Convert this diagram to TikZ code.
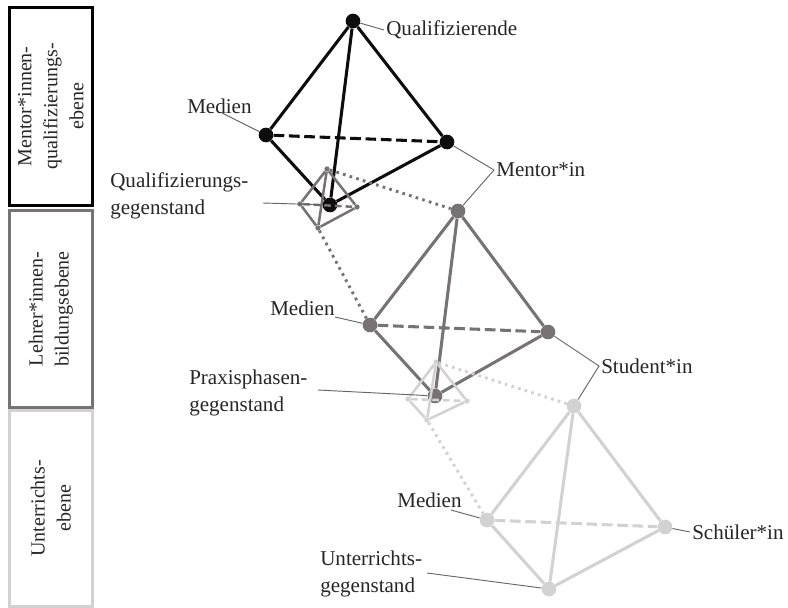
\documentclass[tikz,border=0pt]{standalone}
\usepackage{fontspec}
\setmainfont{Liberation Serif}
\definecolor{cb}{gray}{0.05}
\definecolor{cg}{HTML}{777374}
\definecolor{cl}{HTML}{D2D2D2}
\tikzset{
 x=0.75pt,y=-0.75pt,
 lab/.style={font=\fontsize{15.8}{20}\selectfont,text=black!85,inner sep=0pt,align=left},
 side/.style={font=\fontsize{15}{19.5}\selectfont,text=black!85,inner sep=0pt,align=center,rotate=90},
 lead/.style={draw=black!60,line width=0.7pt},
 pt/.style={circle,fill=#1,inner sep=0pt,minimum size=11pt},
 spt/.style={circle,fill=#1,inner sep=0pt,minimum size=4pt},
 edge/.style={line width=2.3pt},
 sedge/.style={line width=1.9pt},
 dash1/.style={dash pattern=on 8pt off 3.5pt},
 dash2/.style={dash pattern=on 5pt off 3pt},
 dot1/.style={line width=2.2pt,dash pattern=on 2pt off 3.2pt},
}
\begin{document}
\begin{tikzpicture}
\useasboundingbox (0,0) rectangle (788,607);
% side boxes
\node[draw=black,line width=2.1pt,minimum width=62.25pt,minimum height=148.5pt,inner sep=0pt,anchor=north west] (b1) at (8,6) {};
\node[draw=cg,line width=2.1pt,minimum width=62.25pt,minimum height=147.75pt,inner sep=0pt,anchor=north west] (b2) at (8,209) {};
\node[draw=cl,line width=2.1pt,minimum width=62.25pt,minimum height=147pt,inner sep=0pt,anchor=north west] (b3) at (8,409) {};
\node[side] at (b1) {Mentor*innen-\\qualifizierungs-\\ebene};
\node[side] at (b2) {Lehrer*innen-\\bildungsebene};
\node[side] at (b3) {Unterrichts-\\ebene};
% lower light tetrahedron
\node[pt=cl] (lt) at (574,406) {};
\node[pt=cl] (ll) at (487,520) {};
\node[pt=cl] (lr) at (665,527) {};
\node[pt=cl] (lb) at (549,589) {};
\draw[cl,edge] (lt)--(ll) (lt)--(lr) (lt)--(lb) (ll)--(lb) (lr)--(lb);
\draw[cl,edge,dash1] (ll)--(lr);
% gray
\node[pt=cg] (gt) at (458,211) {};
\node[pt=cg] (gl) at (370,325) {};
\node[pt=cg] (gr) at (548,332) {};
\node[pt=cg] (gb) at (435,396) {};
\draw[cg,edge] (gt)--(gl) (gt)--(gr) (gt)--(gb) (gl)--(gb) (gr)--(gb);
\draw[cg,edge,dash1] (gl)--(gr);
% black
\node[pt=cb] (kt) at (353,21) {};
\node[pt=cb] (kl) at (266,135) {};
\node[pt=cb] (kr) at (447,142) {};
\node[pt=cb] (kb) at (330,205) {};
\draw[cb,edge] (kt)--(kl) (kt)--(kr) (kt)--(kb) (kl)--(kb) (kr)--(kb);
\draw[cb,edge,dash1] (kl)--(kr);
% small gray
\node[spt=cg] (at) at (327,169) {};
\node[spt=cg] (al) at (300,204) {};
\node[spt=cg] (ar) at (357,207) {};
\node[spt=cg] (ab) at (318,228) {};
\draw[cg,sedge] (at)--(al) (at)--(ar) (at)--(ab) (al)--(ab) (ar)--(ab);
\draw[cg,sedge,dash2] (al)--(ar);
\draw[cg,dot1] (at)--(gt);
\draw[cg,dot1] (ab)--(gl);
% small light
\node[spt=cl] (ct) at (436,362) {};
\node[spt=cl] (cl1) at (408,399) {};
\node[spt=cl] (cr) at (467,401) {};
\node[spt=cl] (cb1) at (427,420) {};
\draw[cl,sedge] (ct)--(cl1) (ct)--(cr) (ct)--(cb1) (cl1)--(cb1) (cr)--(cb1);
\draw[cl,sedge,dash2] (cl1)--(cr);
\draw[cl,dot1] (ct)--(lt);
\draw[cl,dot1] (cb1)--(ll);
% labels
\node[lab,anchor=west] (t1) at (386,30) {Qualifizierende};
\node[lab,anchor=west] (t2) at (187,106) {Medien};
\node[lab,anchor=west] (t3) at (496,170) {Mentor*in};
\node[lab,anchor=west] (t4) at (110,196) {Qualifizierungs-\\gegenstand};
\node[lab,anchor=west] (t5) at (270,308) {Medien};
\node[lab,anchor=west] (t6) at (601,366) {Student*in};
\node[lab,anchor=west] (t7) at (189,393) {Praxisphasen-\\gegenstand};
\node[lab,anchor=west] (t8) at (397,500) {Medien};
\node[lab,anchor=west] (t9) at (692,532) {Schüler*in};
\node[lab,anchor=west] (t10) at (320,574) {Unterrichts-\\gegenstand};
% leaders
\coordinate (q) at (384,30);
\draw[lead] (kt)--(q);
\coordinate (m1) at (222,113);
\draw[lead] (kl)--(m1);
\coordinate (m2) at (494,170);
\draw[lead] (kr)--(m2)--(gt);
\coordinate (m3) at (263,203);
\draw[lead] (m3)--(kb);
\coordinate (m4) at (335,317);
\draw[lead] (gl)--(m4);
\coordinate (m5) at (599,366);
\draw[lead] (gr)--(m5)--(lt);
\coordinate (m6) at (318,390);
\draw[lead] (m6)--(gb);
\coordinate (m7) at (451,510);
\draw[lead] (ll)--(m7);
\coordinate (m8) at (690,532);
\draw[lead] (lr)--(m8);
\coordinate (m9) at (427,573);
\draw[lead] (m9)--(lb);
\end{tikzpicture}
\end{document}
